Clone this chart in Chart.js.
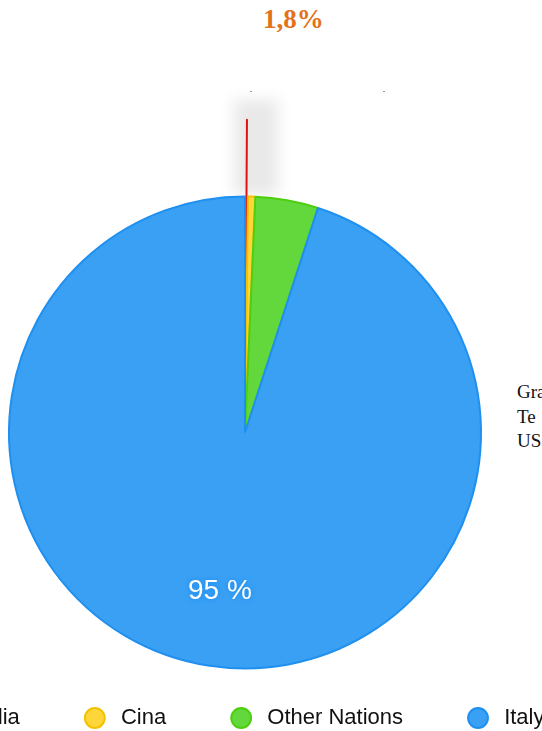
<!DOCTYPE html>
<html>
<head>
<meta charset="utf-8">
<title>Provenienza</title>
<script src="https://cdn.jsdelivr.net/npm/chart.js@4/dist/chart.umd.min.js"></script>
<style>
  html, body { margin: 0; padding: 0; background: #fff; }
  body { width: 542px; height: 731px; overflow: hidden; position: relative; }
  /* canvas is wider than the page so the legend row runs off both sides */
  #wrap { position: absolute; left: -129px; top: 0; width: 748px; height: 739px; }
  .pct { position: absolute; left: 263px; top: 4px; font: bold 27px "Liberation Serif", serif; color: #e2731b; }
  .side { position: absolute; left: 517px; top: 380px; font: 19px "Liberation Serif", serif; line-height: 24.5px; color: #111; white-space: nowrap; }
  .tick { position: absolute; top: 91px; width: 2px; height: 1px; background: #999; }
</style>
</head>
<body>
<div class="pct">1,8%</div>
<span class="tick" style="left:250px"></span>
<span class="tick" style="left:383px"></span>
<div class="side">Gra<br>Te<br>US</div>
<div id="wrap"><canvas id="pie"></canvas></div>
<script>
// quote di provenienza (%)
const nations = ['India', 'Cina', 'Other Nations', 'Italy'];
const shares = [0.2, 0.5, 4.3, 95];

const fills = ['#e8261f', '#ffd63a', '#63d83c', '#39a0f4'];
const edges = ['#e0140e', '#f2c200', '#4ccf0e', '#1f8ff0'];

// ombra morbida dietro la fetta estratta + etichetta percentuale sulla fetta grande
const sliceDecor = {
  id: 'sliceDecor',
  beforeDatasetsDraw(chart) {
    const arc = chart.getDatasetMeta(0).data[0];
    const off = chart.data.datasets[0].offset[0];
    const { x, y, outerRadius, circumference } =
      arc.getProps(['x', 'y', 'outerRadius', 'circumference'], true);
    // same shift that ArcElement applies when drawing an offset slice
    const shift = off / 4 * (2 - Math.sin(Math.min(Math.PI, circumference)));
    const top = y - shift - outerRadius;
    const ctx = chart.ctx;
    ctx.save();
    ctx.filter = 'blur(7px)';
    ctx.fillStyle = 'rgba(0,0,0,0.085)';
    ctx.fillRect(x - 11, top - 20, 44, y - outerRadius - top + 18);
    ctx.restore();
  },
  afterDatasetsDraw(chart) {
    const meta = chart.getDatasetMeta(0);
    const data = chart.data.datasets[0].data;
    const total = data.reduce((a, b) => a + b, 0);
    const i = data.indexOf(Math.max(...data));
    const { x, y, startAngle, endAngle, outerRadius } =
      meta.data[i].getProps(['x', 'y', 'startAngle', 'endAngle', 'outerRadius'], true);
    const mid = (startAngle + endAngle) / 2;
    const r = outerRadius * 0.68;
    const ctx = chart.ctx;
    ctx.save();
    ctx.font = '28px "Liberation Sans", Arial, sans-serif';
    ctx.textAlign = 'center';
    ctx.textBaseline = 'middle';
    ctx.fillStyle = '#fff';
    ctx.shadowColor = '#1688ee';
    ctx.shadowBlur = 5;
    ctx.fillText(Math.round(data[i] / total * 100) + ' %', x + Math.cos(mid) * r, y + Math.sin(mid) * r);
    ctx.restore();
  }
};

const baseLabels = Chart.overrides.pie.plugins.legend.labels.generateLabels;

new Chart(document.getElementById('pie'), {
  type: 'pie',
  data: {
    labels: nations,
    datasets: [{
      data: shares,
      backgroundColor: fills,
      borderColor: edges,
      borderWidth: 2,
      offset: [155, 0, 0, 0],
      radius: 236,
      clip: false
    }]
  },
  options: {
    responsive: true,
    maintainAspectRatio: false,
    animation: false,
    events: [],
    layout: { padding: { top: 224 } },
    plugins: {
      tooltip: { enabled: false },
      legend: {
        position: 'bottom',
        align: 'start',
        labels: {
          usePointStyle: true,
          pointStyle: 'circle',
          boxWidth: 18,
          boxHeight: 14,
          padding: 66,
          color: '#111',
          font: { family: '"Liberation Sans", Arial, sans-serif', size: 22 },
          generateLabels(chart) {
            return baseLabels(chart).map(l => ({ ...l, text: ' ' + l.text }));
          }
        }
      }
    }
  },
  plugins: [sliceDecor]
});
</script>
</body>
</html>
